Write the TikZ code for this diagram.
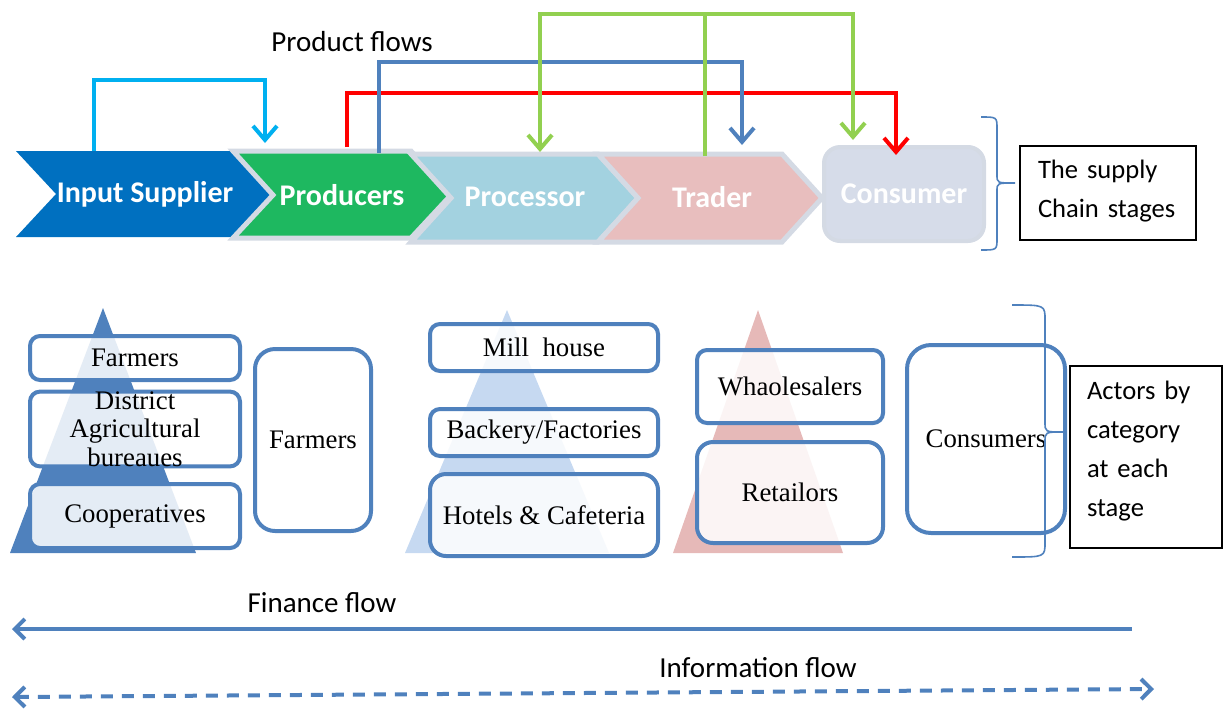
\documentclass[tikz,border=0pt]{standalone}
\usepackage{fontspec}
\setmainfont{Liberation Serif}
\newfontfamily\calfont{Carlito}
\usetikzlibrary{arrows.meta}

\definecolor{inpC}{RGB}{0,112,192}
\definecolor{prodC}{RGB}{30,184,96}
\definecolor{procC}{RGB}{163,210,224}
\definecolor{tradC}{RGB}{232,190,190}
\definecolor{consC}{RGB}{214,220,233}
\definecolor{edgeC}{RGB}{212,218,228}
\definecolor{ofBlue}{RGB}{79,129,189}
\definecolor{pyrBlue}{RGB}{198,217,241}
\definecolor{pyrPink}{RGB}{230,185,184}
\definecolor{cyanC}{RGB}{0,176,240}
\definecolor{limeC}{RGB}{146,208,80}

\tikzset{
  stage/.style={font=\calfont\bfseries\fontsize{15}{18}\selectfont, text=white},
  chev/.style={draw=edgeC, line width=2.5pt},
  pflow/.style={line width=2pt, -{Straight Barb[length=7pt,width=12pt]}},
  money/.style={ofBlue, line width=2pt, -{Straight Barb[length=5pt,width=10pt]}},
  infoflow/.style={ofBlue, line width=2pt, dash pattern=on 6pt off 4.5pt,
    {Straight Barb[length=5pt,width=10pt]}-{Straight Barb[length=5pt,width=10pt]}},
  actor/.style={draw=ofBlue, line width=2pt, rounded corners=5pt, fill=white,
    fill opacity=.85, text opacity=1, inner sep=0pt, align=center,
    font=\fontsize{13.4}{14.2}\selectfont},
  note/.style={draw, line width=.75pt, inner sep=0pt, align=left,
    font=\calfont\fontsize{13.3}{19.5}\selectfont},
  lbl/.style={font=\calfont\fontsize{14.5}{17}\selectfont},
  brc/.style={draw=ofBlue, line width=.8pt},
}

\begin{document}
\begin{tikzpicture}[x=0.5pt,y=-0.5pt]
    \useasboundingbox (0,0) rectangle (1224,713);
    % Стадии цепочки
    \fill[inpC] (16,151) -- (233,151) -- (273,194) -- (233,237) -- (16,237) -- (56,194) -- cycle;
    \draw[chev,fill=prodC] (233,151) -- (411,151) -- (451,195) -- (411,238) -- (233,238) -- (273,195) -- cycle;
    \draw[chev,fill=procC] (411,154) -- (598,154) -- (638,198) -- (598,242) -- (411,242) -- (451,198) -- cycle;
    \draw[chev,fill=tradC] (598,154) -- (782,154) -- (822,198) -- (782,242) -- (598,242) -- (638,198) -- cycle;
    \node[stage] (inp) at (145,194) {Input Supplier};
    \node[stage] (prod) at (342,195) {Producers};
    \node[stage] (proc) at (525,197) {Processor};
    \node[stage] (trad) at (712,197) {Trader};
    \node[stage,fill=consC,draw=edgeC,line width=2pt,rounded corners=8pt,
      minimum width=80pt,minimum height=47pt] (cons) at (904,194) {Consumer};

    % Потоки продукции
    \coordinate (inp-t) at (94,151);
    \coordinate (prod-in) at (265,143);
    \coordinate (prod-t1) at (347,147);
    \coordinate (prod-t2) at (379,153);
    \coordinate (proc-in) at (540,152);
    \coordinate (trad-in) at (742,145);
    \coordinate (trad-t) at (705,156);
    \coordinate (cons-in1) at (853,140);
    \coordinate (cons-in2) at (896,155);
    \draw[pflow,cyanC] (inp-t) -- ++(0,-71) -| (prod-in);
    \draw[pflow,red] (prod-t1) -- ++(0,-54) -| (cons-in2);
    \draw[pflow,ofBlue] (prod-t2) -- ++(0,-91) -| (trad-in);
    \draw[pflow,limeC] (trad-t) -- ++(0,-142) -| (proc-in);
    \draw[pflow,limeC] (trad-t) -- ++(0,-142) -| (cons-in1);
    \node[lbl] (pf) at (352,42) {Product flows};

    \draw[brc] (981,117) .. controls (997,117) .. (997,129) -- (997,175)
      .. controls (997,183) .. (1015,183) .. controls (997,183) .. (997,191)
      -- (997,238) .. controls (997,250) .. (981,250);
    \node[note,minimum width=88pt,minimum height=47pt,text width=70pt,text depth=24pt] (stg) at (1108,193) {The supply\\Chain stages};

    % Пирамиды участников
    \fill[ofBlue] (103,308) -- (10,553) -- (196,553) -- cycle;
    \fill[pyrBlue] (507,310) -- (405,553) -- (609,553) -- cycle;
    \fill[pyrPink] (758,310) -- (673,553) -- (843,553) -- cycle;

    \node[actor,minimum width=105pt,minimum height=22pt] (far1) at (135,358) {Farmers};
    \node[actor,minimum width=105pt,minimum height=37pt] (dist) at (135,429) {District\\Agricultural\\bureaues};
    \node[actor,minimum width=105pt,minimum height=32pt] (coop) at (135,516) {Cooperatives};
    \node[actor,rounded corners=10pt,minimum width=58pt,minimum height=91pt] (far2) at (313,440) {Farmers};

    \node[actor,minimum width=114pt,minimum height=23.5pt] (mill) at (544,347.5) {Mill~ house};
    \node[actor,minimum width=114pt,minimum height=23.5pt] (back) at (544,432.5) {Backery/Factories};
    \node[actor,rounded corners=8pt,minimum width=114pt,minimum height=41pt] (hotel) at (544,515) {Hotels \& Cafeteria};

    \node[actor,minimum width=93pt,minimum height=36.5pt] (whal) at (790,386.5) {Whaolesalers};
    \node[actor,rounded corners=8pt,minimum width=93pt,minimum height=50.5pt] (ret) at (790,492.5) {Retailors};

    \node[actor,rounded corners=12pt,minimum width=79pt,minimum height=94pt] (cust) at (986,439) {Consumers};

    \draw[brc] (1012,305) .. controls (1045,305) .. (1045,320) -- (1045,422)
      .. controls (1045,432) .. (1063,432) .. controls (1045,432) .. (1045,442)
      -- (1045,542) .. controls (1045,557) .. (1012,557);
    \node[note,minimum width=76pt,minimum height=91pt,text width=59pt,text depth=67pt] (act) at (1146,457) {Actors by\\category\\at each\\stage};

    % Финансы и информация
    \coordinate (fin-r) at (1132,629);
    \coordinate (fin-l) at (12,629);
    \draw[money] (fin-r) -- (fin-l);
    \node[lbl] (finl) at (322,603) {Finance flow};
    \coordinate (info-l) at (12,697);
    \coordinate (info-r) at (1154,689);
    \draw[infoflow] (info-l) -- (info-r);
    \node[lbl] (infl) at (758,668) {Information flow};
\end{tikzpicture}
\end{document}
